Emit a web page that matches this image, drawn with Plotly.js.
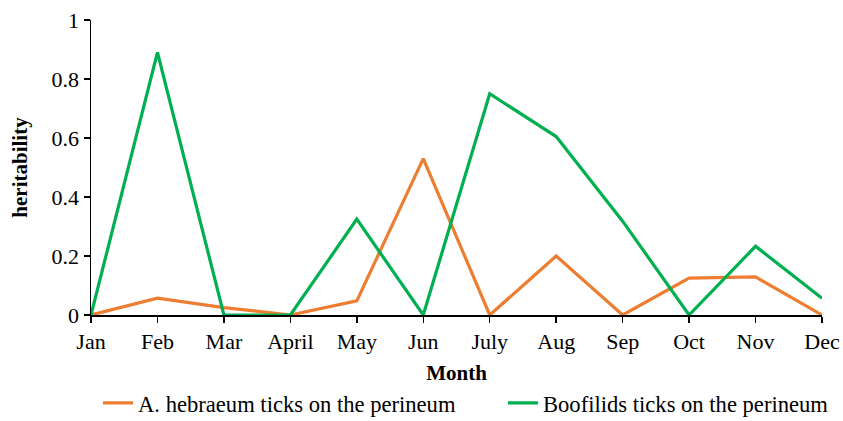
<!DOCTYPE html>
<html>
<head>
<meta charset="utf-8">
<script src="https://cdn.plot.ly/plotly-3.0.1.min.js"></script>
<style>html,body{margin:0;padding:0;background:#fff;}#chart{width:843px;height:421px;}</style>
</head>
<body>
<div id="chart"></div>
<script>
const months = ["Jan","Feb","Mar","April","May","Jun","July","Aug","Sep","Oct","Nov","Dec"];
const hebraeum = [0, 0.057, 0.025, 0, 0.048, 0.53, 0, 0.2, 0, 0.125, 0.129, 0];
const boofilids = [0, 0.89, 0, 0, 0.325, 0, 0.75, 0.605, 0.318, 0, 0.233, 0.057];
const seriesNames = ["A. hebraeum ticks on the perineum", "Boofilids ticks on the perineum"];
const yTicks = [0, 0.2, 0.4, 0.6, 0.8, 1];
const yTickText = ["0", "0.2", "0.4", "0.6", "0.8", "1"];

const font = "'Liberation Serif', 'Times New Roman', serif";
const traces = [
  {x: months, y: hebraeum, name: seriesNames[0], type: "scatter", mode: "lines", legend: "legend",
   line: {color: "#ED7D31", width: 3.2}},
  {x: months, y: boofilids, name: seriesNames[1], type: "scatter", mode: "lines", legend: "legend2",
   line: {color: "#00B050", width: 3.2}}
];
const legendBase = {orientation: "h", yanchor: "bottom", y: -0.372, xanchor: "left",
  bgcolor: "rgba(0,0,0,0)", font: {family: font, size: 22.6, color: "#000"}};
const layout = {
  width: 843, height: 421,
  margin: {l: 91, r: 21, t: 20, b: 106, autoexpand: false},
  paper_bgcolor: "#fff", plot_bgcolor: "#fff",
  font: {family: font, size: 22, color: "#000"},
  showlegend: true,
  legend: Object.assign({}, legendBase, {x: 0.0096}),
  legend2: Object.assign({}, legendBase, {x: 0.5636}),
  xaxis: {type: "category", range: [0, 11], showgrid: false, zeroline: false,
          showline: true, linecolor: "#000", linewidth: 1.5,
          ticks: "outside", ticklen: 6, tickcolor: "#000", tickwidth: 1.5,
          tickfont: {family: font, size: 22},
          title: {text: "<b>Month</b>", font: {family: font, size: 21}, standoff: 12}},
  yaxis: {range: [0, 1], tickvals: yTicks, ticktext: yTickText, showgrid: false, zeroline: false,
          showline: true, linecolor: "#000", linewidth: 1.5,
          ticks: "outside", ticklen: 6, tickcolor: "#000", tickwidth: 1.5,
          tickfont: {family: font, size: 22},
          title: {text: "<b>heritability</b>", font: {family: font, size: 21}, standoff: 18}}
};
Plotly.newPlot("chart", traces, layout, {displayModeBar: false, staticPlot: true});
</script>
</body>
</html>
